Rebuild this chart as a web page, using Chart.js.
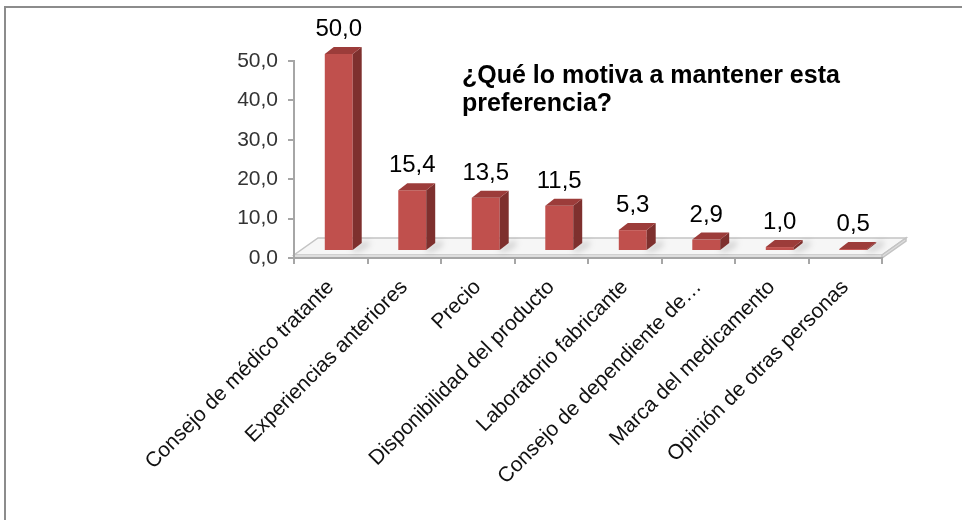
<!DOCTYPE html>
<html lang="es">
<head>
<meta charset="utf-8">
<script src="https://cdn.jsdelivr.net/npm/chart.js@4.4.1/dist/chart.umd.min.js"></script>
<style>
  html, body { margin: 0; padding: 0; background: #fff; overflow: hidden; }
  #wrap { position: relative; width: 962px; height: 520px; }
  #marco { position: absolute; left: 4px; top: 6px; width: 1200px; height: 800px; border: 2px solid #8c8c8c; pointer-events: none; }
</style>
</head>
<body>
<div id="wrap">
  <canvas id="grafica" width="962" height="520"></canvas>
  <div id="marco"></div>
</div>
<script>
// Datos
const categorias = [
  'Consejo de médico tratante',
  'Experiencias anteriores',
  'Precio',
  'Disponibilidad del producto',
  'Laboratorio fabricante',
  'Consejo de dependiente de…',
  'Marca del medicamento',
  'Opinión de otras personas'
];
const porcentajes = [50.0, 15.4, 13.5, 11.5, 5.3, 2.9, 1.0, 0.5];
const marcasY = [0, 10, 20, 30, 40, 50];
const tituloLineas = ['¿Qué lo motiva a mantener esta', 'preferencia?'];

const fuente = 'Liberation Sans, Arial, sans-serif';
const fmt = v => Number(v).toFixed(1).replace('.', ',');

// Efecto 3D (profundidad del piso y de las barras)
const PISO_X = 24, PISO_Y = 20;
const DESP_X = 8, DESP_Y = 7;
const BARRA_X = 9, BARRA_Y = 7;

const piso3d = {
  id: 'piso3d',
  beforeDraw(chart) {
    const { ctx, chartArea } = chart;
    const y0 = chart.scales.y.getPixelForValue(0);
    const x0 = chartArea.left, x1 = chartArea.right;
    ctx.save();
    // cara superior del piso
    ctx.beginPath();
    ctx.moveTo(x0, y0 - 3);
    ctx.lineTo(x1, y0 - 3);
    ctx.lineTo(x1 + PISO_X, y0 - PISO_Y);
    ctx.lineTo(x0 + PISO_X, y0 - PISO_Y);
    ctx.closePath();
    ctx.fillStyle = '#f6f6f6';
    ctx.fill();
    ctx.strokeStyle = '#c4c4c4';
    ctx.lineWidth = 1.5;
    ctx.stroke();
    // canto frontal y lateral
    ctx.fillStyle = '#dedede';
    ctx.fillRect(x0, y0 - 3, x1 - x0, 3);
    ctx.beginPath();
    ctx.moveTo(x1, y0 - 3);
    ctx.lineTo(x1 + PISO_X, y0 - PISO_Y);
    ctx.lineTo(x1 + PISO_X, y0 - PISO_Y + 3);
    ctx.lineTo(x1, y0);
    ctx.closePath();
    ctx.fill();
    ctx.stroke();
    ctx.restore();
  }
};

const barras3d = {
  id: 'barras3d',
  beforeDatasetsDraw(chart) {
    const { ctx } = chart;
    const meta = chart.getDatasetMeta(0);
    // sombras suaves sobre el piso
    ctx.save();
    ctx.filter = 'blur(3px)';
    ctx.fillStyle = 'rgba(0,0,0,0.18)';
    meta.data.forEach(b => {
      const l = b.x + DESP_X + b.width / 2;
      const yb = b.base - DESP_Y;
      ctx.beginPath();
      ctx.moveTo(l - 2, yb);
      ctx.lineTo(l + 16, yb - 10);
      ctx.lineTo(l + 16, yb - 4);
      ctx.lineTo(l + 4, yb + 2);
      ctx.closePath();
      ctx.fill();
    });
    ctx.restore();
    ctx.save();
    ctx.translate(DESP_X, -DESP_Y);
  },
  afterDatasetsDraw(chart) {
    const { ctx } = chart;
    const meta = chart.getDatasetMeta(0);
    meta.data.forEach(b => {
      const l = b.x - b.width / 2, r = b.x + b.width / 2;
      // cara lateral
      ctx.beginPath();
      ctx.moveTo(r, b.y);
      ctx.lineTo(r + BARRA_X, b.y - BARRA_Y);
      ctx.lineTo(r + BARRA_X, b.base - BARRA_Y);
      ctx.lineTo(r, b.base);
      ctx.closePath();
      ctx.fillStyle = '#7e302e';
      ctx.fill();
      // cara superior
      ctx.beginPath();
      ctx.moveTo(l, b.y);
      ctx.lineTo(l + BARRA_X, b.y - BARRA_Y);
      ctx.lineTo(r + BARRA_X, b.y - BARRA_Y);
      ctx.lineTo(r, b.y);
      ctx.closePath();
      ctx.fillStyle = '#9c3c3a';
      ctx.fill();
    });
    ctx.restore();
  }
};

const etiquetas = {
  id: 'etiquetas',
  afterDraw(chart) {
    const { ctx } = chart;
    const meta = chart.getDatasetMeta(0);
    ctx.save();
    ctx.font = '24px ' + fuente;
    ctx.fillStyle = '#000';
    ctx.textAlign = 'center';
    ctx.textBaseline = 'alphabetic';
    meta.data.forEach((b, i) => {
      ctx.fillText(fmt(porcentajes[i]), b.x + DESP_X, b.y - DESP_Y - 18);
    });
    // titulo dentro del area
    ctx.font = 'bold 25px ' + fuente;
    ctx.textAlign = 'left';
    tituloLineas.forEach((t, i) => ctx.fillText(t, 462, 83 + i * 28));
    ctx.restore();
  }
};

new Chart(document.getElementById('grafica'), {
  type: 'bar',
  data: {
    labels: categorias,
    datasets: [{
      data: porcentajes,
      backgroundColor: '#c0504d',
      barPercentage: 0.38,
      categoryPercentage: 1
    }]
  },
  options: {
    responsive: false,
    animation: false,
    layout: { padding: { top: 61, right: 80, left: 0, bottom: 0 } },
    plugins: {
      legend: { display: false },
      tooltip: { enabled: false }
    },
    scales: {
      x: {
        grid: { offset: true, drawOnChartArea: false, tickLength: 6, color: '#a6a6a6', lineWidth: 2 },
        border: { color: '#a6a6a6', width: 2 },
        ticks: {
          minRotation: 45, maxRotation: 45, autoSkip: false,
          color: '#111', padding: 11,
          font: { family: fuente, size: 21 }
        },
        afterFit: (s) => { s.height = 262; }
      },
      y: {
        min: 0, max: 50,
        afterBuildTicks: (s) => { s.ticks = marcasY.map(v => ({ value: v })); },
        grid: { drawOnChartArea: false, tickLength: 6, color: '#a6a6a6', lineWidth: 2 },
        border: { color: '#a6a6a6', width: 2 },
        ticks: {
          color: '#333', padding: 10,
          font: { family: fuente, size: 21 },
          callback: (v) => fmt(v)
        },
        afterFit: (s) => { s.width = 294; }
      }
    }
  },
  plugins: [piso3d, barras3d, etiquetas]
});
</script>
</body>
</html>
